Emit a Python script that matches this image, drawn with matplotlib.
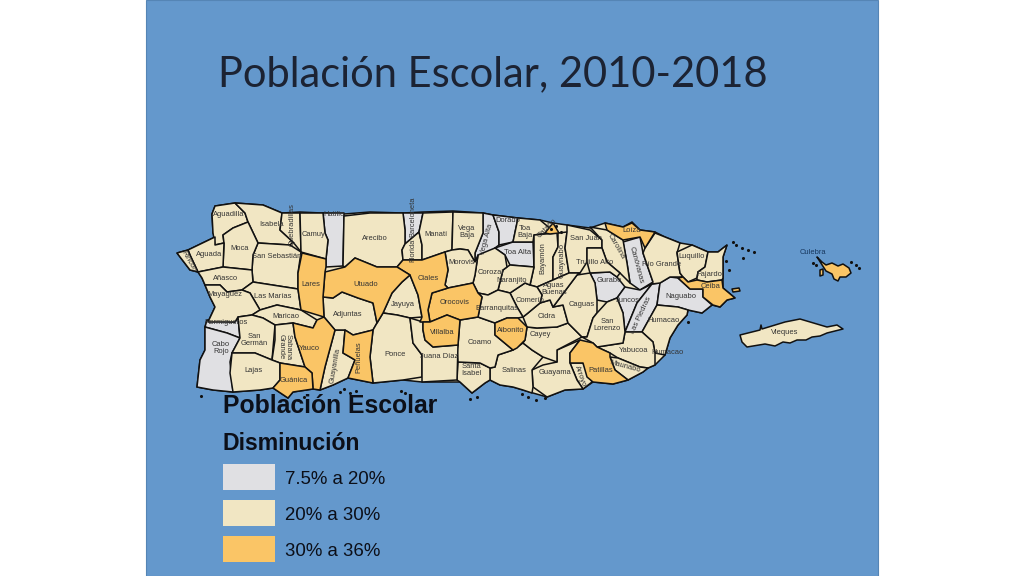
import matplotlib
matplotlib.use('Agg')
import matplotlib.pyplot as plt
from matplotlib.patches import Polygon, Rectangle

LOW, MID, HIGH = '#E0E0E3', '#F1E6C3', '#FAC566'
SEA = '#6498CC'

# main island coast, sits under the municipios so no sea shows between them
isla = [(177,253),(188,250),(215,237),(213,233),(212,214),(215,206),(235,203),(263,205),(282,213),(300,212),(344,214),(370,212),
        (403,213),(423,212),(453,211),(483,213),(493,215),(518,218),(540,220),(553,223),(567,225),(590,228),(605,223),(623,227),
        (632,222),(640,230),(655,232),(665,237),(680,243),(692,245),(708,252),(718,252),(727,245),(723,257),(723,278),(723,288),
        (735,298),(727,300),(720,307),(712,305),(702,313),(688,310),(687,315),(678,325),(670,338),(665,355),(655,365),(648,368),
        (643,372),(628,380),(613,384),(593,382),(583,389),(565,390),(547,397),(533,393),(523,390),(513,387),(500,385),(490,380),
        (485,383),(472,393),(460,382),(422,382),(403,380),(373,383),(348,378),(333,385),(320,390),(313,389),(293,392),(288,398),
        (273,388),(260,390),(233,392),(213,390),(197,387),(200,360),(205,350),(205,327),(207,320),(208,322),(215,307),(210,297),
        (205,285),(202,278),(198,272),(190,270)]

# municipio outlines
aguadilla = [(212,214),(215,206),(235,203),(245,213),(248,222),(233,228),(223,235),(224,243),(215,245),(213,233)]
isabela = [(235,203),(263,205),(282,213),(280,230),(293,242),(290,245),(258,243),(248,222),(245,213)]
quebradillas = [(282,213),(300,213),(301,252),(293,242),(280,230)]
camuy = [(300,213),(323,213),(325,233),(328,240),(326,259),(301,252)]
hatillo = [(323,213),(344,213),(343,266),(326,267),(326,259),(328,240),(325,233)]
arecibo = [(344,216),(370,213),(403,213),(405,230),(405,244),(402,250),(403,260),(397,267),(377,267),(355,258),(345,267),(343,266)]
barceloneta = [(403,213),(423,213),(419,232),(412,238),(405,244),(405,230)]
florida = [(405,244),(412,238),(419,232),(422,245),(422,260),(411,260),(403,260),(402,250)]
manati = [(423,213),(453,212),(452,250),(445,252),(422,260),(422,245),(419,232)]
vega_baja = [(453,212),(483,213),(483,233),(475,253),(475,262),(468,250),(460,249),(452,250)]
vega_alta = [(483,213),(493,215),(499,232),(499,245),(495,248),(482,260),(475,262),(475,253),(483,233)]
dorado = [(493,215),(518,218),(513,242),(499,245),(499,232)]
toa_baja = [(518,218),(540,220),(552,230),(547,233),(534,235),(533,242),(513,242)]
catano = [(545,233),(553,223),(559,233),(550,234)]
toa_alta = [(495,248),(513,242),(533,242),(534,267),(510,265),(505,255)]
bayamon = [(534,235),(557,233),(558,247),(553,257),(553,280),(537,287),(530,285),(534,267)]
guaynabo = [(558,233),(567,232),(565,248),(569,273),(553,280),(553,257),(558,247)]
san_juan = [(567,225),(590,230),(602,240),(602,248),(587,248),(587,262),(580,273),(569,273),(565,248),(567,232)]
carolina = [(590,227),(607,230),(623,240),(627,263),(630,283),(620,273),(607,262),(602,248),(602,240)]
trujillo = [(587,248),(602,248),(607,262),(620,273),(617,277),(610,272),(590,273),(587,262)]
loiza = [(605,223),(623,227),(632,223),(640,230),(655,232),(645,248),(640,237),(623,240),(607,230)]
canovanas = [(623,242),(640,237),(643,253),(653,282),(640,290),(630,283),(627,263)]
rio_grande = [(645,248),(655,233),(665,237),(680,243),(677,253),(680,273),(683,277),(670,277),(660,283),(652,284),(653,282),(643,253)]
luquillo = [(677,252),(692,245),(708,252),(705,267),(698,272),(697,278),(688,282),(683,277),(680,273)]
fajardo = [(708,252),(718,252),(727,245),(723,257),(723,278),(722,280),(707,282),(697,280),(697,278),(698,272),(705,267)]
ceiba = [(678,278),(683,277),(688,282),(697,280),(707,282),(722,280),(723,288),(735,298),(727,300),(720,307),(713,305),(703,297),(703,289),(690,289)]
naguabo = [(660,283),(670,277),(678,278),(690,289),(703,289),(703,297),(712,305),(702,313),(688,310),(678,307),(657,305)]
las_piedras = [(652,284),(660,283),(657,305),(642,332),(625,332),(637,303)]
juncos = [(617,298),(625,287),(640,290),(652,284),(637,303),(625,332),(623,313)]
gurabo = [(590,273),(610,272),(617,277),(625,287),(617,298),(607,302),(597,300),(595,283)]
humacao = [(657,305),(678,307),(688,310),(687,315),(678,325),(670,338),(665,355),(655,353),(653,342),(642,332)]
yabucoa = [(597,347),(623,343),(625,332),(642,332),(653,342),(655,353),(655,365),(648,368),(640,367),(618,358),(610,353)]
maunabo = [(610,357),(618,358),(640,367),(648,368),(643,372),(628,380),(615,370)]
patillas = [(580,340),(593,343),(597,347),(610,353),(610,357),(615,370),(628,380),(613,384),(593,382),(587,377),(583,363),(570,363),(570,353)]
arroyo = [(570,363),(583,363),(592,382),(583,389),(577,380)]
guayama = [(532,370),(543,365),(557,362),(557,350),(580,340),(570,353),(570,363),(577,380),(583,389),(565,390),(547,397),(533,387)]
salinas = [(495,367),(498,355),(513,350),(523,343),(532,350),(543,357),(532,370),(533,387),(532,393),(523,390),(513,387),(500,385),(490,380),(490,368)]
santa_isabel = [(458,362),(480,363),(490,368),(490,380),(485,383),(472,393),(460,382),(457,380)]
coamo = [(460,320),(478,317),(495,323),(495,335),(513,350),(498,355),(495,367),(490,368),(480,363),(458,362),(457,350),(458,345)]
aibonito = [(495,323),(507,318),(518,318),(527,327),(525,340),(517,348),(513,350),(495,335)]
cayey = [(527,327),(537,328),(557,327),(568,323),(582,337),(557,350),(557,362),(543,357),(532,350),(523,343),(525,340)]
cidra = [(523,317),(528,313),(540,303),(550,300),(553,307),(563,305),(568,323),(557,327),(537,328),(527,327)]
caguas = [(553,307),(577,275),(590,273),(595,283),(597,300),(597,313),(593,318),(587,337),(582,337),(568,323),(563,305)]
aguas_buenas = [(537,287),(553,280),(569,273),(580,273),(577,275),(553,307),(550,300),(540,303),(542,295)]
san_lorenzo = [(597,313),(607,302),(617,298),(623,313),(625,332),(623,343),(597,347),(593,343),(582,337),(587,337),(593,318)]
comerio = [(510,293),(525,283),(530,285),(537,287),(542,295),(540,303),(528,313),(523,317),(517,307)]
naranjito = [(498,290),(503,270),(507,267),(510,265),(534,267),(530,285),(525,283),(510,293)]
corozal = [(475,275),(478,255),(495,248),(505,255),(507,267),(503,270),(498,290),(488,295),(478,293),(473,283)]
morovis = [(445,252),(452,250),(460,249),(468,250),(475,262),(478,255),(475,275),(473,283),(448,288),(445,285),(448,270)]
barranquitas = [(478,293),(488,295),(498,290),(510,293),(517,307),(523,317),(518,318),(507,318),(495,323),(478,317),(482,297)]
orocovis = [(432,293),(448,288),(473,283),(478,293),(482,297),(478,317),(460,320),(447,315),(430,322),(428,310)]
ciales = [(403,260),(422,260),(445,252),(448,270),(445,285),(448,288),(432,293),(428,310),(430,322),(420,322),(422,317),(418,295),(410,275),(397,267)]
jayuya = [(383,313),(392,293),(402,282),(410,275),(418,295),(422,317),(410,318),(397,315)]
utuado = [(325,272),(345,267),(355,258),(377,267),(397,267),(410,275),(402,282),(392,293),(383,313),(377,323),(373,303),(358,298),(342,292),(333,298),(323,297)]
lares = [(302,253),(326,259),(326,267),(325,272),(323,297),(324,317),(301,310),(298,289),(298,273)]
san_sebastian = [(258,243),(290,245),(301,252),(298,273),(298,289),(253,282),(252,270),(253,255)]
moca = [(223,235),(233,228),(248,222),(258,243),(253,255),(252,270),(223,267),(224,243)]
aguada = [(188,250),(215,237),(215,245),(224,243),(223,267),(198,272),(190,255)]
rincon = [(177,253),(188,250),(190,255),(198,272),(190,270)]
anasco = [(198,272),(223,267),(252,270),(253,282),(242,290),(227,292),(220,285),(205,285),(202,278)]
las_marias = [(242,290),(253,282),(298,289),(301,310),(277,305),(260,310),(250,293)]
mayaguez = [(205,285),(220,285),(227,292),(242,290),(250,293),(260,310),(252,315),(238,317),(235,322),(208,322),(215,307),(210,297)]
maricao = [(252,315),(260,310),(277,305),(301,310),(317,320),(313,328),(293,323),(275,325),(263,318)]
hormigueros = [(207,320),(235,322),(238,317),(240,338),(227,333),(205,327)]
cabo_rojo = [(205,327),(227,333),(240,338),(232,353),(230,362),(233,392),(213,390),(197,387),(200,360),(205,350)]
san_german = [(238,317),(252,315),(263,318),(275,325),(272,360),(255,353),(232,353),(240,338)]
sabana_grande = [(275,325),(293,323),(295,337),(305,367),(280,363),(272,360),(275,340)]
lajas = [(232,353),(255,353),(272,360),(280,363),(280,380),(273,388),(260,390),(233,392),(230,373)]
yauco = [(293,323),(313,328),(317,320),(324,317),(335,330),(325,367),(320,390),(313,389),(312,373),(305,367),(295,337)]
guanica = [(280,363),(305,367),(312,373),(313,389),(293,392),(288,398),(273,388),(280,380)]
guayanilla = [(335,330),(345,330),(343,353),(350,357),(355,360),(348,378),(333,385),(320,390),(325,367)]
penuelas = [(345,330),(353,335),(373,330),(370,357),(373,383),(348,378),(355,360),(350,357),(343,353)]
adjuntas = [(323,297),(333,298),(342,292),(358,298),(373,303),(377,323),(373,330),(353,335),(345,330),(335,330),(324,317)]
ponce = [(373,330),(377,323),(383,313),(397,315),(410,318),(413,343),(422,355),(422,377),(403,380),(373,383),(370,357)]
juana_diaz = [(410,318),(423,322),(423,330),(425,340),(433,347),(458,345),(457,380),(422,382),(422,355),(413,343)]
villalba = [(423,322),(430,322),(447,315),(460,320),(458,345),(433,347),(425,340),(423,330)]
vieques = [(740,335),(760,330),(761,325),(762,329),(785,322),(800,319),(827,327),(837,325),(843,329),(827,333),(820,336),(812,337),
          (806,340),(797,340),(790,343),(783,342),(775,346),(765,344),(747,347),(742,342)]
culebra = [(817,257),(822,262),(826,265),(832,263),(838,266),(843,264),(849,268),(851,273),(846,277),(840,277),(838,281),(834,279),(832,274),(826,271)]
culebra_oeste = [(820,270),(823,269),(823,275),(820,276)]
ceiba_cayo = [(732,289),(739,288),(740,291),(733,292)]

low_shapes = [hatillo, barceloneta, vega_alta, dorado, toa_alta, canovanas, gurabo, juncos, las_piedras, naguabo, hormigueros, cabo_rojo]
mid_shapes = [aguadilla, isabela, quebradillas, camuy, arecibo, florida, manati, vega_baja, toa_baja, bayamon, guaynabo,
              san_juan, carolina, trujillo, rio_grande, luquillo, fajardo, humacao, yabucoa, maunabo, arroyo, guayama, salinas,
              santa_isabel, coamo, cayey, cidra, caguas, aguas_buenas, san_lorenzo, comerio, naranjito, corozal, morovis,
              barranquitas, jayuya, san_sebastian, moca, aguada, rincon, anasco, las_marias, mayaguez, maricao, san_german,
              sabana_grande, lajas, guayanilla, adjuntas, ponce, juana_diaz, vieques]
high_shapes = [catano, loiza, ceiba, ceiba_cayo, patillas, aibonito, orocovis, ciales, utuado, lares, villalba, yauco, guanica,
               penuelas, culebra, culebra_oeste]

# name, x, y, rotation
labels = [('Aguadilla',229,215,0),('Isabela',272,225,0),('Quebradillas',292,225,90),('Camuy',314,235,0),('Hatillo',334,215,0),
          ('Arecibo',375,239,0),('Barceloneta',413,217,90),('Florida',413,250,90),('Manatí',436,234,0),('Vega\nBaja',467,232,0),
          ('Vega Alta',487,240,75),('Dorado',508,220,0),('Toa\nBaja',525,232,0),('Cataño',547,228,45),('Toa Alta',518,253,0),
          ('Bayamón',543,258,90),('Guaynabo',562,260,90),('San Juan',586,239,0),('Carolina',616,246,-60),('Loíza',632,231,0),
          ('Canóvanas',636,265,-75),('Río Grande',662,265,0),('Luquillo',692,256,0),('Fajardo',709,275,0),('Ceiba',711,287,0),
          ('Vieques',785,333,0),('Naguabo',681,297,0),('Juncos',628,300,0),('Las Piedras',641,315,65),('Humacao',663,320,0),
          ('Humacao',667,352,0),('Yabucoa',634,351,0),('Maunabo',625,367,-15),('Patillas',601,371,0),('Arroyo',580,376,-70),
          ('Guayama',555,372,0),('Salinas',514,371,0),('Santa\nIsabel',471,370,0),('Coamo',480,342,0),('Aibonito',511,331,0),
          ('Cayey',540,334,0),('Cidra',547,317,0),('San\nLorenzo',607,325,0),('Caguas',582,304,0),('Gurabo',609,281,0),
          ('Trujillo Alto',595,262,0),('Aguas\nBuenas',554,289,0),('Comerío',530,300,0),('Naranjito',512,280,0),('Corozal',491,273,0),
          ('Morovis',462,262,0),('Ciales',428,278,0),('Orocovis',455,303,0),('Barranquitas',497,308,0),('Villalba',442,332,0),
          ('Juana Díaz',439,356,0),('Ponce',395,354,0),('Jayuya',403,304,0),('Adjuntas',348,314,0),('Utuado',366,284,0),
          ('Lares',311,285,0),('Maricao',286,317,0),('Las Marías',273,296,0),('Mayagüez',225,295,0),('Añasco',226,278,0),
          ('Moca',240,249,0),('Aguada',209,255,0),('Rincón',189,261,-60),('San Sebastián',277,257,0),('Hormigueros',226,323,0),
          ('San\nGermán',254,340,0),('Cabo\nRojo',221,348,0),('Sabana',288,347,-90),('Grande',281,347,-90),('Yauco',309,348,0),
          ('Lajas',253,370,0),('Guánica',294,380,0),('Guayanilla',335,366,80),('Peñuelas',359,357,90)]

islet_x = [733,736,742,748,754,743,726,729,688,551,556,561,522,528,536,545,298,304,340,344,350,356,470,477,401,405,201,430,813,816,851,856,859]
islet_y = [242,245,248,250,252,258,261,270,322,229,226,232,394,397,400,398,400,397,392,389,393,391,399,397,391,393,396,405,263,265,262,265,268]

legend_labels = ['7.5% a 20%', '20% a 30%', '30% a 36%']
legend_colors = [LOW, MID, HIGH]

fig = plt.figure(figsize=(10.24, 5.76), dpi=100, facecolor='white')
ax = fig.add_axes([0, 0, 1, 1])
ax.set_xlim(0, 1024)
ax.set_ylim(576, 0)
ax.axis('off')

ax.add_patch(Rectangle((146, 0), 732, 576, facecolor=SEA, edgecolor='#5585b5', linewidth=0.8))
ax.add_patch(Polygon(isla, closed=True, facecolor=MID, edgecolor='#111111', linewidth=1.1))

for shapes, color in [(low_shapes, LOW), (mid_shapes, MID), (high_shapes, HIGH)]:
    for shape in shapes:
        ax.add_patch(Polygon(shape, closed=True, facecolor=color, edgecolor='#111111', linewidth=1.1, joinstyle='round'))

ax.scatter(islet_x, islet_y, s=5, color='#111111', linewidths=0)

for name, x, y, rot in labels:
    ax.text(x, y, name, fontsize=5.4, family='Liberation Sans', color='#333333', rotation=rot,
            ha='center', va='center', linespacing=1.15)
ax.text(813, 252, 'Culebra', fontsize=5.4, family='Liberation Sans', color='#17375e', ha='center', va='center')

ax.text(218, 74, 'Población Escolar, 2010-2018', fontsize=30, family='Lato', color='#1c2333', ha='left', va='center')

ax.text(223, 406, 'Población Escolar', fontsize=17.8, family='Liberation Sans', weight='bold', color='#0c0f18', va='center')
ax.text(223, 443, 'Disminución', fontsize=16.6, family='Liberation Sans', weight='bold', color='#0c0f18', va='center')
for i, (lab, col) in enumerate(zip(legend_labels, legend_colors)):
    top = 464 + i * 36
    ax.add_patch(Rectangle((223, top), 52, 26, facecolor=col, edgecolor='none'))
    ax.text(285, top + 15, lab, fontsize=13.4, family='Liberation Sans', color='#0c0f18', va='center')

fig.savefig('out.png', dpi=100)
